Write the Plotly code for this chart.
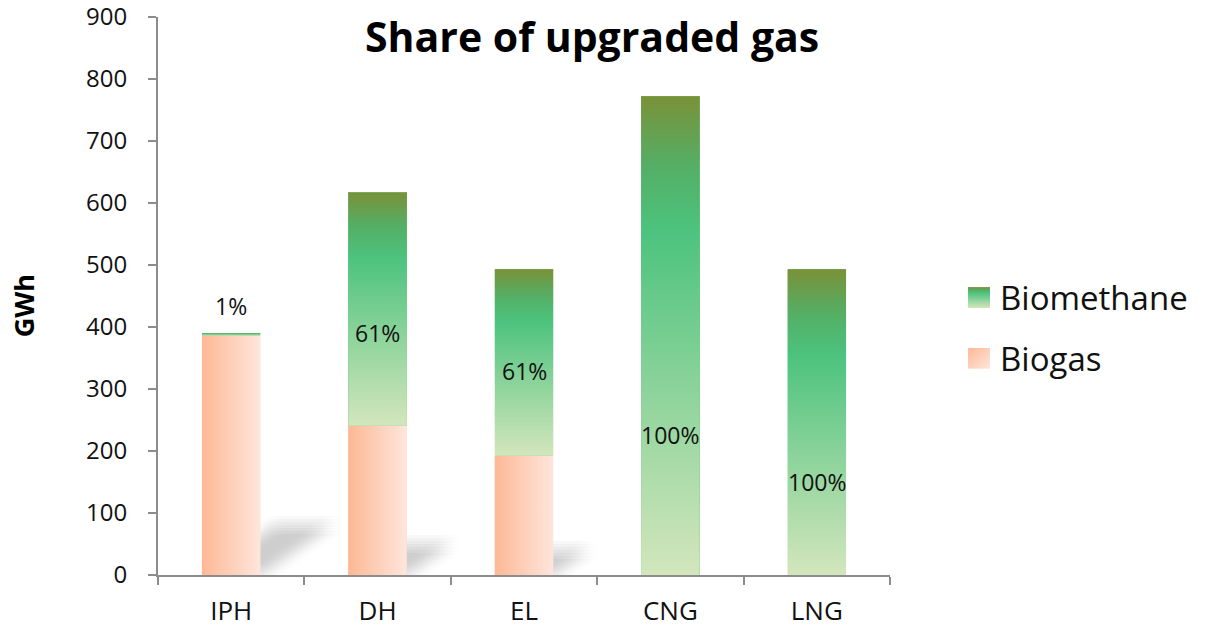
import base64
import plotly.graph_objects as go

# Demand categories and their gas volumes (GWh)
categories = ["IPH", "DH", "EL", "CNG", "LNG"]
total_gwh = [390, 617, 493, 772, 493]
upgraded_share = [0.01, 0.61, 0.61, 1.00, 1.00]
share_labels = ["1%", "61%", "61%", "100%", "100%"]
label_y = [434, 390, 329, 226, 150]

biomethane = [t * s for t, s in zip(total_gwh, upgraded_share)]
biogas = [t - b for t, b in zip(total_gwh, biomethane)]

BAR_W = 0.4
FONT = "Open Sans"
AXIS_COLOR = "#8c8c8c"

BIOMETHANE_SCALE = [
    [0.0, "#d3e6bc"],
    [0.35, "#93d59e"],
    [0.72, "#4cc37e"],
    [0.86, "#55ae64"],
    [1.0, "#7a9138"],
]
BIOGAS_SCALE = [[0.0, "#fdb895"], [1.0, "#fee6dc"]]

# shadow projection per GWh of the bar standing on the floor
SHADOW_DX = 0.00130
SHADOW_DY = 0.21
# approximate size of one screen pixel in data units (for the shadow blur)
PX_X = 1 / 146.4
PX_Y = 900 / 558

fig = go.Figure()

# soft floor shadows cast by the biogas bars: many faint, shifted copies of the
# projected bar outline add up to a blurred shadow
blur_steps = [-9, -6, -3, 0, 3, 6, 9]
for i, h in enumerate(biogas):
    if h < 50:
        continue
    L, R = i - BAR_W / 2, i + BAR_W / 2
    dx, dy = SHADOW_DX * h, SHADOW_DY * h
    for sx in blur_steps:
        for sy in blur_steps:
            ox, oy = sx * PX_X, sy * PX_Y
            xs = [L + ox, R + ox, R + dx + ox, L + dx + ox, L + ox]
            ys = [oy, oy, dy + oy, dy + oy, oy]
            fig.add_trace(go.Scatter(
                x=xs, y=ys, fill="toself", mode="none",
                fillcolor="rgba(140,140,140,0.01)",
                hoverinfo="skip", showlegend=False))

# stacked bars (solid base)
fig.add_trace(go.Bar(x=list(range(len(categories))), y=biogas, width=BAR_W,
                     name="Biogas", marker=dict(color="#fdd0bb", line=dict(width=0)),
                     showlegend=False))
fig.add_trace(go.Bar(x=list(range(len(categories))), y=biomethane, width=BAR_W,
                     name="Biomethane", marker=dict(color="#6fcb8e", line=dict(width=0)),
                     showlegend=False))

# gradient shading of each bar segment
for i in range(len(categories)):
    L, R = i - BAR_W / 2, i + BAR_W / 2
    lo, hi = 0, biogas[i]
    if hi > lo:
        fig.add_trace(go.Scatter(
            x=[L, R, R, L, L], y=[lo, lo, hi, hi, lo], fill="toself", mode="lines",
            line=dict(width=0),
            fillgradient=dict(type="horizontal", colorscale=BIOGAS_SCALE),
            hoverinfo="skip", showlegend=False))
    lo, hi = biogas[i], total_gwh[i]
    if hi > lo:
        fig.add_trace(go.Scatter(
            x=[L, R, R, L, L], y=[lo, lo, hi, hi, lo], fill="toself", mode="lines",
            line=dict(width=0),
            fillgradient=dict(type="vertical", colorscale=BIOMETHANE_SCALE),
            hoverinfo="skip", showlegend=False))

# share labels
for i, (txt, yv) in enumerate(zip(share_labels, label_y)):
    fig.add_annotation(x=i, y=yv, text=txt, showarrow=False,
                       font=dict(family=FONT, size=23, color="#111111"))


def swatch(scale, diagonal):
    stops = "".join(
        f'<stop offset="{o}" stop-color="{c}"/>' for o, c in scale)
    if diagonal:
        grad = f'<linearGradient id="g" x1="0" y1="0" x2="1" y2="1">{stops}</linearGradient>'
    else:
        grad = f'<linearGradient id="g" x1="0" y1="1" x2="0" y2="0">{stops}</linearGradient>'
    svg = (f'<svg xmlns="http://www.w3.org/2000/svg" width="22" height="22">'
           f'<defs>{grad}</defs><rect width="22" height="22" fill="url(#g)"/></svg>')
    return "data:image/svg+xml;base64," + base64.b64encode(svg.encode()).decode()


# legend
legend_items = [("Biomethane", swatch(BIOMETHANE_SCALE, False), 0.516),
                ("Biogas", swatch(BIOGAS_SCALE, True), 0.407)]
for name, src, ytop in legend_items:
    fig.add_layout_image(dict(source=src, xref="paper", yref="paper",
                              x=1.1066, y=ytop, sizex=0.030, sizey=0.0376,
                              sizing="stretch", xanchor="left", yanchor="top",
                              layer="above"))
    fig.add_annotation(xref="paper", yref="paper", x=1.148, y=ytop - 0.0188,
                       text=name, showarrow=False, xanchor="left", yanchor="middle",
                       font=dict(family=FONT, size=33, color="#111111"))

# title and axis title
fig.add_annotation(xref="paper", yref="paper", x=0.593, y=0.966,
                   text="<b>Share of upgraded gas</b>", showarrow=False,
                   xanchor="center", yanchor="middle",
                   font=dict(family=FONT, size=41, color="#000000"))
fig.add_annotation(xref="paper", yref="paper", x=-0.184, y=0.482,
                   text="<b>GWh</b>", showarrow=False, textangle=-90,
                   xanchor="center", yanchor="middle",
                   font=dict(family=FONT, size=27, color="#000000"))

fig.update_layout(
    width=1206, height=629,
    margin=dict(l=158, r=316, t=17, b=54),
    paper_bgcolor="white", plot_bgcolor="white",
    barmode="stack", showlegend=False,
    font=dict(family=FONT, color="#111111"),
    xaxis=dict(
        range=[-0.5, len(categories) - 0.5],
        tickvals=list(range(len(categories))), ticktext=categories,
        ticks="", showgrid=False, zeroline=False, automargin=False,
        showline=True, linecolor=AXIS_COLOR, linewidth=2,
        tickfont=dict(family=FONT, size=26, color="#111111"),
        ticklabelstandoff=12, ticklabeloverflow="allow",
        minor=dict(tickvals=[k - 0.5 for k in range(len(categories) + 1)],
                   ticks="outside", ticklen=8, tickwidth=2, tickcolor=AXIS_COLOR),
        fixedrange=True,
    ),
    yaxis=dict(
        range=[0, 900], dtick=100, tick0=0,
        ticks="outside", ticklen=8, tickwidth=2, tickcolor=AXIS_COLOR,
        showgrid=False, zeroline=False, automargin=False,
        showline=True, linecolor=AXIS_COLOR, linewidth=2,
        tickfont=dict(family=FONT, size=24, color="#111111"),
        ticklabelstandoff=16, ticklabeloverflow="allow",
        fixedrange=True,
    ),
)

fig.write_html("out.html")
